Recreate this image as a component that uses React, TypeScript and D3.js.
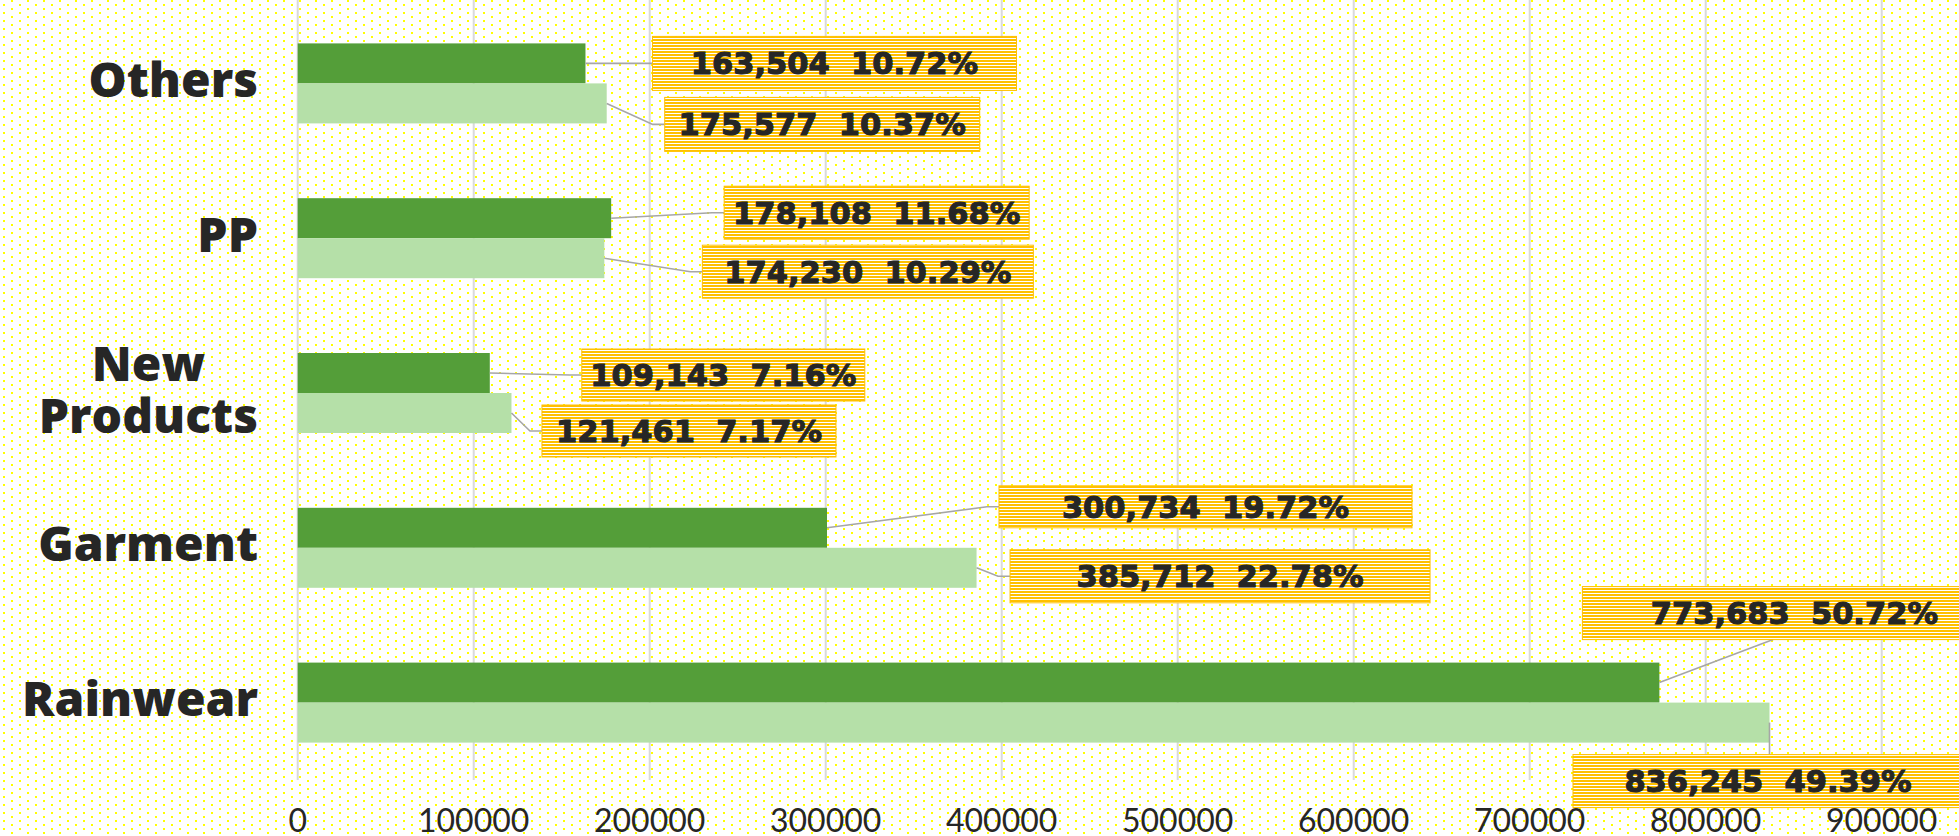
import React from "react";
import * as d3 from "d3";

// categories, top to bottom
const categories = ["Others", "PP", "New Products", "Garment", "Rainwear"];

// dark green series
const valuesDark = [163504, 178108, 109143, 300734, 773683];
const pctDark = ["10.72%", "11.68%", "7.16%", "19.72%", "50.72%"];

// light green series
const valuesLight = [175577, 174230, 121461, 385712, 836245];
const pctLight = ["10.37%", "10.29%", "7.17%", "22.78%", "49.39%"];

const xTicks = [0, 100000, 200000, 300000, 400000, 500000, 600000, 700000, 800000, 900000];

// hand placed callouts (offset from bar end / bar middle), like in the original sheet
const calloutDark = [
  { dx: 67, dy: 0, w: 364, h: 54, attach: "left" },
  { dx: 113, dy: -5.5, w: 305, h: 53, attach: "left" },
  { dx: 92, dy: 2, w: 283, h: 52, attach: "left" },
  { dx: 172, dy: -21, w: 413, h: 42, attach: "left" },
  { dx: -77, dy: -69.5, w: 424, h: 53, attach: "bottom" },
];
const calloutLight = [
  { dx: 58, dy: 21, w: 315, h: 54, attach: "left" },
  { dx: 98, dy: 13.5, w: 331, h: 53, attach: "left" },
  { dx: 30.5, dy: 18, w: 294, h: 52, attach: "left" },
  { dx: 33.5, dy: 8.5, w: 420, h: 53, attach: "left" },
  { dx: -196.5, dy: 58.5, w: 390, h: 53, attach: "top" },
];

const width = 1959;
const height = 836;
const margin = { left: 297.7, right: 77.3, top: 6, bottom: 56 };
const barH = 40;

const DARK = "#549e39";
const LIGHT = "#b5e0a8";
const GOLD = "#ffc000";
const INK = "#262626";
const catSize = 48;
const catFont = `800 ${catSize}px 'Open Sans'`;

const measure = (text: string, font: string) => {
  const ctx = document.createElement("canvas").getContext("2d");
  if (!ctx) return text.length * 25;
  ctx.font = font;
  return ctx.measureText(text).width;
};

function Callout({ barEnd, barMid, value, pct, c }: any) {
  const left = barEnd + c.dx;
  const cy = barMid + c.dy;
  const top = cy - c.h / 2;
  let path;
  if (c.attach === "left") {
    path = `M${barEnd},${barMid}L${left - 12},${cy}L${left},${cy}`;
  } else if (c.attach === "bottom") {
    path = `M${barEnd},${barMid}L${left + c.w * 0.45},${top + c.h}`;
  } else {
    path = `M${barEnd},${barMid}L${barEnd},${top}`;
  }
  return (
    <g>
      <path d={path} fill="none" stroke="#a6a6a6" strokeWidth={1.6} />
      <rect x={left} y={top} width={c.w} height={c.h} fill="url(#stripes)" stroke={GOLD} strokeWidth={1} />
      <text
        x={left + c.w / 2}
        y={cy + 11}
        textAnchor="middle"
        fill={INK}
        stroke={INK}
        strokeWidth={1.1}
        style={{ fontFamily: "DejaVu Sans", fontWeight: 700, fontSize: 30.5, whiteSpace: "pre" }}
      >
        {`${d3.format(",")(value)}  ${pct}`}
      </text>
    </g>
  );
}

export default function App() {
  const x = d3.scaleLinear().domain([0, 900000]).range([margin.left, width - margin.right]);
  const y = d3
    .scaleBand()
    .domain(categories)
    .range([margin.top, height - margin.bottom])
    .padding(0);
  const plotBottom = height - margin.bottom;
  const labelRight = 258;

  return (
    <svg width={width} height={height} style={{ position: "absolute", left: 0, top: 0, background: "#fff" }}>
      <defs>
        <pattern id="dots" width={16} height={8} patternUnits="userSpaceOnUse">
          <rect x={11} y={0} width={2} height={2} fill="#ffff00" />
          <rect x={3} y={4} width={2} height={2} fill="#ffff00" />
        </pattern>
        <pattern id="stripes" width={4} height={3} patternUnits="userSpaceOnUse">
          <rect width={4} height={3} fill="#fff" />
          <rect width={4} height={2} fill={GOLD} />
        </pattern>
      </defs>
      <rect width={width} height={height} fill="url(#dots)" />

      {/* grid */}
      {xTicks.map((t) => (
        <line key={t} x1={x(t)} x2={x(t)} y1={0} y2={plotBottom} stroke="#d9d9d9" strokeWidth={2} />
      ))}

      {/* tick labels */}
      {xTicks.map((t) => (
        <text
          key={"t" + t}
          x={x(t)}
          y={832}
          textAnchor="middle"
          fill={INK}
          style={{ fontFamily: "Lato", fontSize: 32 }}
        >
          {t}
        </text>
      ))}

      {/* category labels */}
      {categories.map((c) => {
        const mid = (y(c) as number) + y.bandwidth() / 2;
        const lines = c.includes(" ") ? c.split(" ") : [c];
        const maxW = d3.max(lines, (l) => measure(l, catFont)) as number;
        const lh = 52;
        const base = mid - 4 + 17.5 - ((lines.length - 1) * lh) / 2;
        return (
          <g key={c}>
            {lines.map((l, i) => (
              <text
                key={l}
                x={lines.length > 1 ? labelRight - maxW / 2 : labelRight}
                y={base + i * lh}
                textAnchor={lines.length > 1 ? "middle" : "end"}
                fill={INK}
                style={{ fontFamily: "Open Sans", fontWeight: 800, fontSize: catSize }}
              >
                {l}
              </text>
            ))}
          </g>
        );
      })}

      {/* bars */}
      {categories.map((c, i) => {
        const mid = (y(c) as number) + y.bandwidth() / 2;
        return (
          <g key={"b" + c}>
            <rect x={x(0)} y={mid - barH} width={x(valuesDark[i]) - x(0)} height={barH} fill={DARK} />
            <rect x={x(0)} y={mid} width={x(valuesLight[i]) - x(0)} height={barH} fill={LIGHT} />
          </g>
        );
      })}

      {/* callouts */}
      {categories.map((c, i) => {
        const mid = (y(c) as number) + y.bandwidth() / 2;
        return (
          <g key={"c" + c}>
            <Callout barEnd={x(valuesDark[i])} barMid={mid - barH / 2} value={valuesDark[i]} pct={pctDark[i]} c={calloutDark[i]} />
            <Callout barEnd={x(valuesLight[i])} barMid={mid + barH / 2} value={valuesLight[i]} pct={pctLight[i]} c={calloutLight[i]} />
          </g>
        );
      })}
    </svg>
  );
}
